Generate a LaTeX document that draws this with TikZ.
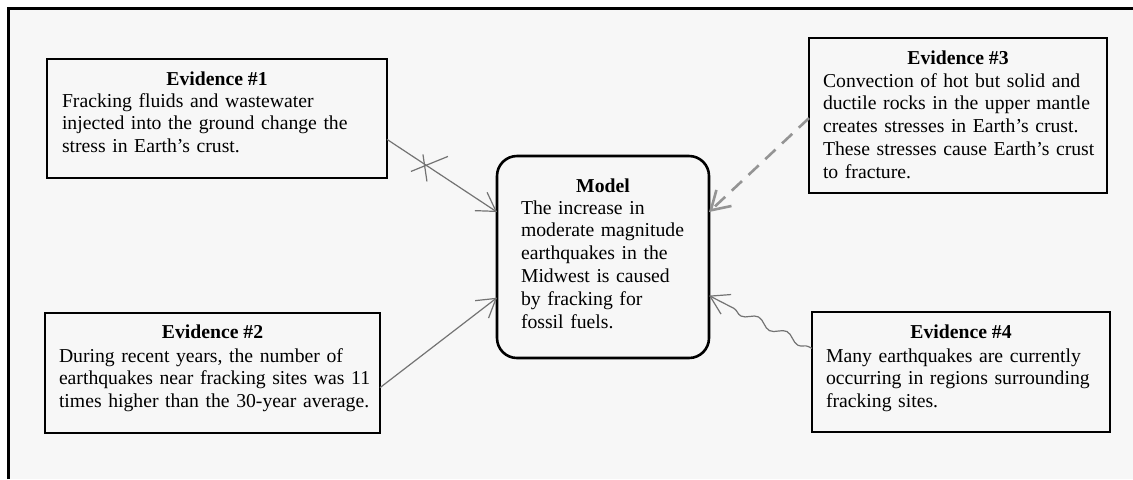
\documentclass[tikz,border=0pt]{standalone}
\usepackage{fontspec}
\setmainfont{Liberation Serif}
\usetikzlibrary{arrows.meta,decorations.pathmorphing}

\begin{document}
\begin{tikzpicture}[x=0.5pt, y=-0.5pt,
    every node/.style={font=\fontsize{9.85}{11.4}\selectfont, inner sep=0pt, outer sep=0pt},
    evbox/.style={draw, line width=0.8pt, anchor=north west},
    modelbox/.style={draw, line width=1.3pt, rounded corners=10pt, anchor=north west},
    head/.style={anchor=base, font=\fontsize{9.85}{11.4}\selectfont\bfseries},
    body/.style={anchor=base west, align=left, text width=160pt},
    link/.style={draw=black!55, line width=0.6pt, -{Straight Barb[length=9pt,width=11pt]}}]
  \useasboundingbox (0,0) rectangle (1133,479);
  % sheet
  \fill[white] (0,0) rectangle (1133,479);
  \fill[black!3] (8.5,8) rectangle (1133,479);
  \draw[line width=1.5pt] (8.5,479) -- (8.5,8) -- (1133,8);
  % Evidence 1
  \node[evbox, minimum width=170pt, minimum height=59.5pt] (ev1) at (47,59) {};
  \node[head] (ev1head) at (217,85) {Evidence \#1};
  \node[body] (ev1text) at (62,107) {Fracking fluids and wastewater\\
    injected into the ground change the\\ stress in Earth’s crust.};
  % Evidence 2
  \node[evbox, minimum width=167.5pt, minimum height=60pt] (ev2) at (45,313) {};
  \node[head] (ev2head) at (212.5,338) {Evidence \#2};
  \node[body] (ev2text) at (59,362) {During recent years, the number of\\
    earthquakes near fracking sites was 11\\ times higher than the 30-year average.};
  % Evidence 3
  \node[evbox, minimum width=149pt, minimum height=77.5pt] (ev3) at (809,38) {};
  \node[head] (ev3head) at (958,64) {Evidence \#3};
  \node[body] (ev3text) at (823,87) {Convection of hot but solid and\\
    ductile rocks in the upper mantle\\ creates stresses in Earth’s crust.\\
    These stresses cause Earth’s crust\\ to fracture.};
  % Evidence 4
  \node[evbox, minimum width=149pt, minimum height=60pt] (ev4) at (812,312) {};
  \node[head] (ev4head) at (961,338) {Evidence \#4};
  \node[body] (ev4text) at (826,362) {Many earthquakes are currently\\
    occurring in regions surrounding\\ fracking sites.};
  % Model
  \node[modelbox, minimum width=106pt, minimum height=101pt] (model) at (497,156) {};
  \node[head] (modelhead) at (603,192) {Model};
  \node[body] (modeltext) at (521,214) {The increase in\\ moderate magnitude\\
    earthquakes in the\\ Midwest is caused\\ by fracking for\\ fossil fuels.};
  % arrows
  \draw[link] (ev1.-7.2) -- coordinate[pos=0.345] (cut) (model.157.9);
  \draw[black!55, line width=0.6pt] (cut) ++(-14,7) -- ++(37,-15)
    (cut) ++(-2,-10) -- ++(4,27);
  \draw[link] (ev2.-5.7) -- (model.-159.3);
  \draw[link, draw=black!42, line width=1.3pt, dash pattern=on 7pt off 4.5pt]
    (ev3.181.7) -- (model.23.9);
  \draw[link, decorate, decoration={snake, amplitude=1.8pt, segment length=16pt,
    pre length=2pt, post length=6pt}] (ev4.171.6) -- (model.-20.7);
\end{tikzpicture}
\end{document}
